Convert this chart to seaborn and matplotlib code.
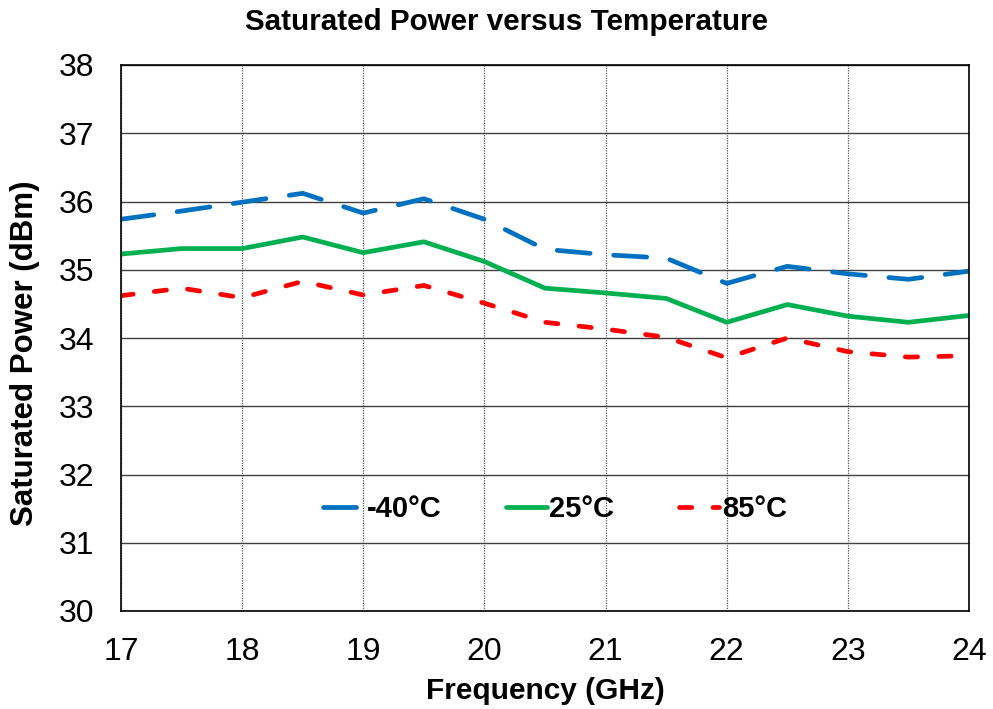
import matplotlib
matplotlib.use("Agg")
import matplotlib.pyplot as plt
import seaborn as sns
import pandas as pd

freq = [17, 17.5, 18, 18.5, 19, 19.5, 20, 20.5, 21, 21.5, 22, 22.5, 23, 23.5, 24]
p_m40 = [35.74, 35.86, 35.99, 36.12, 35.83, 36.04, 35.74, 35.30, 35.22, 35.17, 34.80, 35.05, 34.94, 34.86, 34.98]
p_25 = [35.23, 35.31, 35.31, 35.48, 35.25, 35.41, 35.12, 34.73, 34.66, 34.58, 34.23, 34.49, 34.32, 34.23, 34.33]
p_85 = [34.62, 34.73, 34.59, 34.83, 34.63, 34.77, 34.51, 34.23, 34.13, 34.01, 33.71, 34.00, 33.80, 33.72, 33.74]
labels = ["-40°C", "25°C", "85°C"]
colors = ["#0070C0", "#00B050", "#FF0000"]

rows = []
for lab, vals in zip(labels, [p_m40, p_25, p_85]):
    for f, v in zip(freq, vals):
        rows.append({"Frequency": f, "Power": v, "Temp": lab})
df = pd.DataFrame(rows)

sns.set_theme(style="white")
plt.rcParams['font.family'] = ['Liberation Sans', 'DejaVu Sans']
plt.rcParams['text.color'] = 'black'
plt.rcParams['axes.labelcolor'] = 'black'

fig = plt.figure(figsize=(9.93, 7.09), dpi=100)
ax = fig.add_axes([121/993, 1-611/709, 848/993, 546/709])

sns.lineplot(data=df, x="Frequency", y="Power", hue="Temp", style="Temp",
             palette=dict(zip(labels, colors)),
             dashes={"-40°C": (7, 5), "25°C": "", "85°C": (2.6, 4.5)},
             linewidth=3.4, ax=ax, legend=False)
for ln in ax.get_lines():
    ln.set_solid_capstyle("round")
    ln.set_dash_capstyle("round")
    ln.set_solid_joinstyle("round")
    ln.set_dash_joinstyle("round")

ax.set_xlim(17, 24)
ax.set_ylim(30, 38)
ax.set_xticks(range(17, 25))
ax.set_yticks(range(30, 39))
ax.yaxis.grid(True, color="#404040", linewidth=1.0, linestyle="-")
ax.xaxis.grid(True, color="#555555", linewidth=0.9, linestyle=(0, (1, 1)))
ax.set_axisbelow(True)
for s in ax.spines.values():
    s.set_color("black")
    s.set_linewidth(1.2)
ax.tick_params(axis="both", labelsize=23, length=0, pad=19, colors="black")

ax.set_xlabel("Frequency (GHz)", fontsize=21.5, fontweight="bold", labelpad=7, color="black")
ax.set_ylabel("Saturated Power (dBm)", fontsize=22.5, fontweight="bold", color="black")
ax.yaxis.set_label_coords(-0.096, 0.4725)
ax.set_title("Saturated Power versus Temperature", fontsize=21.3, fontweight="bold",
             pad=25, color="black", x=0.455)

handles = ax.get_lines()[:3]
leg = ax.legend(handles, labels, loc="center", bbox_to_anchor=(0.512, 0.187), ncol=3,
                frameon=False, handlelength=1.4, handletextpad=0.1,
                columnspacing=2.2, prop={"weight": "bold", "size": 21})
for t in leg.get_texts():
    t.set_color("black")

fig.savefig("out.png", dpi=100)
